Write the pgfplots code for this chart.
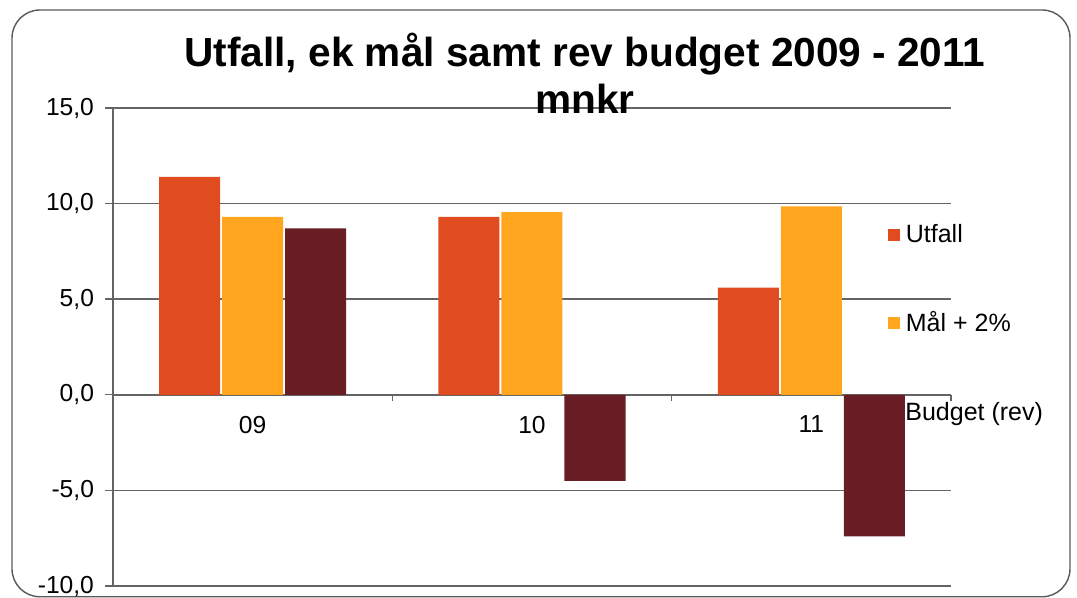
\documentclass[border=0pt]{standalone}
\usepackage{fontspec}
\setmainfont{Liberation Sans}
\usepackage{pgfplots}
\pgfplotsset{compat=1.18}

\definecolor{utfall}{RGB}{224,76,32}
\definecolor{malcol}{RGB}{255,166,30}
\definecolor{budget}{RGB}{104,30,36}
\definecolor{gridgray}{RGB}{100,100,100}

\begin{document}
\begin{tikzpicture}[x=1pt,y=1pt]
\useasboundingbox (0,0) rectangle (538.5,299);
\draw[line width=0.7pt, black!65, rounded corners=14pt] (6,0.6) rectangle (535,294);
\begin{axis}[
    at={(56.5pt,6pt)}, anchor=south west,
    scale only axis, width=419pt, height=239pt,
    ybar=1pt, bar width=30.5pt,
    xmin=-0.5, xmax=2.5, ymin=-10, ymax=15,
    enlargelimits=false,
    axis x line*=middle, axis y line*=left,
    hide obscured x ticks=false, hide obscured y ticks=false,
    xtick={0,1,2}, xticklabels={09,10,11},
    minor xtick={-0.5,0.5,1.5,2.5},
    major x tick style={draw=none},
    minor x tick style={gridgray, line width=0.6pt},
    minor tick length=3pt,
    ytick={-10,-5,0,5,10,15},
    tick align=outside, major tick length=4pt,
    y tick style={gridgray, line width=0.7pt},
    ymajorgrids, grid style={gridgray, line width=0.7pt},
    axis line style={gridgray, line width=0.8pt},
    /pgf/number format/.cd, fixed, fixed zerofill, precision=1, use comma, assume math mode=true,
    /pgfplots/.cd,
    tick label style={font=\fontsize{12.3}{14}\selectfont},
    xticklabel style={yshift=-3pt},
    yticklabel style={xshift=-2pt},
    legend image code/.code={\fill[#1] (0pt,-3pt) rectangle (6pt,3pt);},
    legend style={at={(0.917,0.765)}, anchor=north west, draw=none, fill=none,
        font=\fontsize{12.5}{14}\selectfont, row sep=33pt, column sep=3pt,
        nodes={inner sep=0pt}},
    legend cell align=left,
]
\addplot[fill=utfall, draw=none] coordinates {(0,11.4) (1,9.3) (2,5.6)};
\addlegendentry{Utfall}
\addplot[fill=malcol, draw=none] coordinates {(0,9.3) (1,9.55) (2,9.85)};
\addlegendentry{Mål + 2\%}
\addplot[fill=budget, draw=none] coordinates {(0,8.7) (1,-4.5) (2,-7.4)};
\end{axis}
\node[anchor=base, font=\bfseries\fontsize{20.3}{24}\selectfont, inner sep=0pt] at (292.5,265.5) {Utfall, ek mål samt rev budget 2009 - 2011};
\node[anchor=base, font=\bfseries\fontsize{20.3}{24}\selectfont, inner sep=0pt] at (292.5,242) {mnkr};
\node[anchor=base west, font=\fontsize{12.5}{14}\selectfont, inner sep=0pt] at (452.5,88.5) {Budget (rev)};
\end{tikzpicture}
\end{document}
